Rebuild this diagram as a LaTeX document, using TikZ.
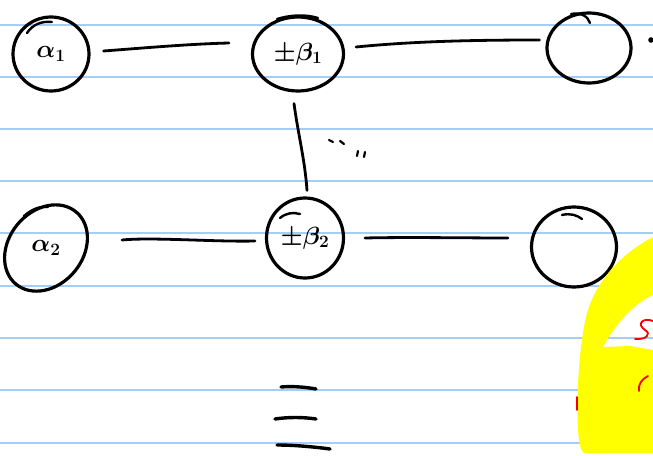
\documentclass[tikz,border=0pt]{standalone}
\usetikzlibrary{shapes.geometric}
\definecolor{rulecol}{RGB}{165,205,250}
\definecolor{hlyellow}{RGB}{255,255,0}
\definecolor{penred}{RGB}{240,0,0}
\tikzset{
  rule/.style={draw=rulecol, line width=1.6pt},
  pen/.style={draw=black, line width=3.2pt, line cap=round, line join=round},
  nd/.style={ellipse, pen, inner sep=0pt, font=\fontsize{27}{31}\selectfont\boldmath},
  txt/.style={inner sep=0pt, font=\fontsize{27}{31}\selectfont\boldmath},
  ln/.style={pen, line width=2.8pt},
  tick/.style={pen, line width=2.2pt},
  redpen/.style={draw=penred, line width=1.8pt, line cap=round}
}
\begin{document}
\begin{tikzpicture}[x=1pt,y=-1pt]
\useasboundingbox (0,0) rectangle (653,455);
\fill[white] (0,0) rectangle (653,455);
\foreach \yy in {25,77,129,181,233,286,338,390,443} \draw[rule] (0,\yy) -- (653,\yy);

% nodes, top row
\node[nd, minimum width=76pt, minimum height=74pt] (a1) at (51,54) {$\alpha_1$};
\node[nd, minimum width=91pt, minimum height=74pt] (b1) at (298,54) {$\pm\beta_1$};
\node[nd, minimum width=84pt, minimum height=70pt] (c1) at (589,48) {};
% bottom row
\node[txt] (a2) at (46,248) {$\alpha_2$};
\draw[pen, rotate around={50:(a2.center)}] (a2.center) ellipse (47 and 37);
\node[nd, minimum width=77pt, minimum height=80pt] (b2) at (305,238) {$\pm\beta_2$};
\node[nd, minimum width=85pt, minimum height=80pt] (c2) at (574,247) {};

% overshoot strokes
\draw[pen, line width=2.4pt] (27,33) .. controls (33,24) and (42,21) .. (52,22);
\draw[pen, line width=2.4pt] (277,19) .. controls (290,15) and (305,14) .. (318,18);
\draw[pen, line width=2.4pt] (571,14) .. controls (580,12) and (588,16) .. (590,23);
\draw[pen, line width=2.4pt] (24,216) .. controls (32,209) and (40,206) .. (48,207);
\draw[pen, line width=2.4pt] (280,218) .. controls (286,213) and (293,212) .. (300,214);
\draw[pen, line width=2.4pt] (562,215) .. controls (570,213) and (577,215) .. (582,219);

% connectors
\draw[ln] ([shift={(13,-3)}]a1.east) .. controls +(40,-3) and +(-40,1) .. ([shift={(-22,-11)}]b1.west);
\draw[ln] ([shift={(11,-7)}]b1.east) .. controls +(60,-6) and +(-60,0) .. ([shift={(-6,-8)}]c1.west);
\fill (651,40) circle (2.8);
\draw[ln] ([shift={(-4,11)}]b1.south) .. controls +(4,30) and +(-2,-30) .. ([shift={(2,-6)}]b2.north);
\draw[ln] ([shift={(76,-8)}]a2.center) .. controls +(30,-3) and +(-40,1) .. ([shift={(-10,3)}]b2.west);
\draw[ln] ([shift={(20,0)}]b2.east) .. controls +(40,-1) and +(-40,0) .. ([shift={(-22,-9)}]c2.west);

% small marks
\draw[tick] (329,140) -- (333,142);
\draw[tick] (340,141) -- (344,144);
\draw[tick] (358,151) -- (357,156);
\draw[tick] (365,152) -- (364,157);

% equals-like strokes
\draw[pen, line width=3.4pt] (281,387) .. controls (292,386) and (305,387) .. (316,389);
\draw[pen, line width=3.4pt] (275,419) .. controls (288,417) and (303,417) .. (316,419);
\draw[pen, line width=3.4pt] (277,445) .. controls (295,445) and (315,447) .. (330,449);

% highlighter
\fill[hlyellow] (653,237) .. controls (628,250) and (598,275) .. (587,313)
  .. controls (580,340) and (576,390) .. (578,430)
  .. controls (579,442) and (580,450) .. (584,453)
  -- (653,453) -- (653,350) -- (630,346) -- (603,347)
  .. controls (612,330) and (630,305) .. (653,295) -- cycle;
% red pen marks
\draw[redpen] (653,321) .. controls (643,317) and (636,324) .. (645,330)
  .. controls (652,334) and (646,340) .. (635,339);
\draw[redpen] (648,376) .. controls (642,379) and (638,384) .. (639,391);
\draw[redpen] (577,397) -- (577,410);
\end{tikzpicture}
\end{document}
